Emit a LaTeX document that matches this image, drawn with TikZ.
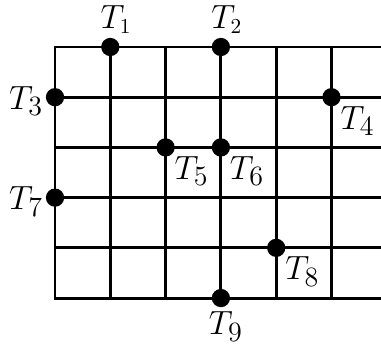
\documentclass[tikz,border=0pt]{standalone}
\usepackage{tikz}
\begin{document}
\begin{tikzpicture}[x=1cm,y=0.908cm,
    dot/.style={circle,fill,inner sep=0pt,minimum size=9.4pt},
    gridline/.style={line width=1.5pt,line cap=rect},
    lab/.style={font=\fontsize{19pt}{22pt}\selectfont,inner sep=1pt},
    toplab/.style={font=\fontsize{16pt}{19pt}\selectfont,inner sep=1pt,xshift=3pt}]
    \useasboundingbox (-0.995,-0.936) rectangle (5.895,5.936);

    % Grid
    \foreach \i in {0,...,5}
        \draw[gridline] (\i,0) -- (\i,5);
    \foreach \j in {0,...,5}
        \draw[gridline] (0,\j) -- (5.895,\j);

    % Points
    \node[dot,label={[toplab,label distance=1pt]above:$T_1$}] (t1) at (1,5) {};
    \node[dot,label={[toplab,label distance=1pt]above:$T_2$}] (t2) at (3,5) {};
    \node[dot,label={[lab,yshift=-2pt]left:$T_3$}] (t3) at (0,4) {};
    \node[dot,label={[lab]below right:$T_4$}] (t4) at (5,4) {};
    \node[dot,label={[lab]below right:$T_5$}] (t5) at (2,3) {};
    \node[dot,label={[lab]below right:$T_6$}] (t6) at (3,3) {};
    \node[dot,label={[lab,yshift=-2pt]left:$T_7$}] (t7) at (0,2) {};
    \node[dot,label={[lab]below right:$T_8$}] (t8) at (4,1) {};
    \node[dot,label={[lab,label distance=1pt,xshift=2.5pt]below:$T_9$}] (t9) at (3,0) {};
\end{tikzpicture}
\end{document}
